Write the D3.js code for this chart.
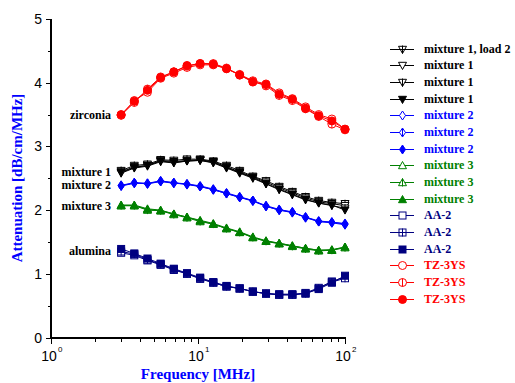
<!DOCTYPE html>
<html><head><meta charset="utf-8">
<script src="https://cdn.jsdelivr.net/npm/d3@7"></script>
<style>body{margin:0;background:#fff}svg{display:block}</style>
</head><body>
<script>
// ---- data ----
const freqs = [3, 3.687, 4.532, 5.571, 6.847, 8.416, 10.34, 12.71, 15.63, 19.21, 23.61, 29.02, 35.67, 43.84, 53.89, 66.23, 81.41, 100];
const yTicks = [0, 1, 2, 3, 4, 5];
const xTicks = [1, 10, 100];
const xTickExp = ["0", "1", "2"];

const m1Load2 = [2.62, 2.70, 2.72, 2.79, 2.78, 2.80, 2.80, 2.77, 2.70, 2.62, 2.53, 2.46, 2.37, 2.29, 2.21, 2.15, 2.12, 2.10];
const m1A = [2.60, 2.68, 2.70, 2.78, 2.76, 2.78, 2.79, 2.76, 2.68, 2.60, 2.52, 2.44, 2.35, 2.27, 2.19, 2.13, 2.10, 2.07];
const m1B = [2.58, 2.66, 2.69, 2.76, 2.74, 2.77, 2.78, 2.74, 2.66, 2.58, 2.50, 2.41, 2.32, 2.24, 2.16, 2.11, 2.07, 2.03];
const m1C = [2.59, 2.67, 2.70, 2.77, 2.75, 2.77, 2.78, 2.75, 2.67, 2.59, 2.51, 2.42, 2.33, 2.25, 2.17, 2.11, 2.08, 2.00];

const m2A = [2.39, 2.43, 2.42, 2.46, 2.43, 2.41, 2.38, 2.33, 2.27, 2.21, 2.15, 2.07, 2.01, 1.97, 1.89, 1.83, 1.81, 1.79];
const m2B = [2.38, 2.42, 2.42, 2.45, 2.42, 2.41, 2.37, 2.32, 2.26, 2.20, 2.14, 2.06, 2.00, 1.96, 1.89, 1.82, 1.80, 1.77];
const m2C = [2.38, 2.43, 2.41, 2.45, 2.43, 2.40, 2.37, 2.32, 2.26, 2.20, 2.15, 2.06, 2.00, 1.97, 1.88, 1.82, 1.81, 1.78];

const m3A = [2.08, 2.08, 2.02, 2.00, 1.94, 1.89, 1.84, 1.79, 1.72, 1.66, 1.58, 1.52, 1.48, 1.44, 1.40, 1.37, 1.38, 1.42];
const m3B = [2.07, 2.07, 2.00, 1.99, 1.93, 1.88, 1.82, 1.78, 1.71, 1.65, 1.57, 1.51, 1.47, 1.43, 1.39, 1.36, 1.37, 1.41];
const m3C = [2.07, 2.07, 2.01, 1.99, 1.94, 1.89, 1.83, 1.78, 1.71, 1.65, 1.57, 1.51, 1.48, 1.44, 1.40, 1.37, 1.37, 1.42];

const aaA = [1.33, 1.29, 1.21, 1.14, 1.06, 1.00, 0.92, 0.86, 0.80, 0.77, 0.72, 0.69, 0.67, 0.67, 0.70, 0.78, 0.88, 0.95];
const aaB = [1.35, 1.31, 1.22, 1.15, 1.07, 1.00, 0.93, 0.86, 0.80, 0.77, 0.72, 0.69, 0.67, 0.67, 0.69, 0.77, 0.87, 0.93];
const aaC = [1.39, 1.32, 1.24, 1.16, 1.08, 1.01, 0.94, 0.87, 0.81, 0.77, 0.72, 0.69, 0.68, 0.68, 0.69, 0.76, 0.86, 0.97];

const tzA = [3.49, 3.72, 3.85, 4.07, 4.15, 4.24, 4.28, 4.28, 4.22, 4.13, 4.03, 3.98, 3.84, 3.75, 3.62, 3.50, 3.43, 3.27];
const tzB = [3.49, 3.69, 3.90, 4.09, 4.17, 4.26, 4.30, 4.30, 4.23, 4.12, 4.02, 3.95, 3.80, 3.72, 3.59, 3.47, 3.35, 3.26];
const tzC = [3.50, 3.71, 3.88, 4.08, 4.17, 4.27, 4.30, 4.29, 4.22, 4.12, 4.01, 3.97, 3.82, 3.74, 3.60, 3.48, 3.40, 3.27];

const seriesNames = ["mixture 1, load 2", "mixture 1", "mixture 1", "mixture 1", "mixture 2", "mixture 2", "mixture 2",
  "mixture 3", "mixture 3", "mixture 3", "AA-2", "AA-2", "AA-2", "TZ-3YS", "TZ-3YS", "TZ-3YS"];
const seriesValues = [m1Load2, m1A, m1B, m1C, m2A, m2B, m2C, m3A, m3B, m3C, aaA, aaB, aaC, tzA, tzB, tzC];
const seriesColors = ["#000", "#000", "#000", "#000", "#0000ff", "#0000ff", "#0000ff", "#008000", "#008000", "#008000",
  "#000080", "#000080", "#000080", "#ff0000", "#ff0000", "#ff0000"];
const seriesShapes = ["dtriX", "dtri", "dtriV", "dtriF", "dia", "diaX", "diaF", "tri", "triX", "triF", "sq", "sqX", "sqF", "cir", "cirX", "cirF"];

const labels = ["zirconia", "mixture 1", "mixture 2", "mixture 3", "alumina"];
const labelValues = [3.49, 2.60, 2.39, 2.07, 1.36];

// ---- drawing ----
const W = 515, H = 383;
const svg = d3.select("body").append("svg").attr("width", W).attr("height", H);
const x = d3.scaleLog().domain([1, 100]).range([51, 345]);
const y = d3.scaleLinear().domain([0, 5]).range([337.5, 19]);

function drawMarker(g, shape, color, cx, cy) {
  const s = 4;
  const fill = shape.endsWith("F") ? color : "#fff";
  const base = shape.replace(/[FXV]$/, "");
  let el;
  if (base === "dtri") {
    el = g.append("path").attr("d", `M${cx - s},${cy - s * 0.8}L${cx + s},${cy - s * 0.8}L${cx},${cy + s}Z`);
  } else if (base === "tri") {
    el = g.append("path").attr("d", `M${cx - s},${cy + s * 0.8}L${cx + s},${cy + s * 0.8}L${cx},${cy - s}Z`);
  } else if (base === "dia") {
    el = g.append("path").attr("d", `M${cx},${cy - s - 0.5}L${cx + s * 0.75},${cy}L${cx},${cy + s + 0.5}L${cx - s * 0.75},${cy}Z`);
  } else if (base === "sq") {
    el = g.append("rect").attr("x", cx - s + 0.5).attr("y", cy - s + 0.5).attr("width", 2 * s - 1).attr("height", 2 * s - 1);
  } else {
    el = g.append("circle").attr("cx", cx).attr("cy", cy).attr("r", s);
  }
  el.attr("fill", fill).attr("stroke", color).attr("stroke-width", 1);
  if (shape.endsWith("X") || shape.endsWith("V")) {
    g.append("line").attr("x1", cx).attr("x2", cx).attr("y1", cy - s).attr("y2", cy + s).attr("stroke", color);
    if (base === "sq" || base === "dtri") {
      if (shape.endsWith("X"))
        g.append("line").attr("x1", cx - s).attr("x2", cx + s).attr("y1", cy).attr("y2", cy).attr("stroke", color);
    }
  }
}

// axes
const axG = svg.append("g");
axG.append("line").attr("x1", 51).attr("x2", 51).attr("y1", 19).attr("y2", 338.5).attr("stroke", "#000").attr("stroke-width", 2);
axG.append("line").attr("x1", 50).attr("x2", 346).attr("y1", 338).attr("y2", 338).attr("stroke", "#000").attr("stroke-width", 2);

// y ticks
d3.range(0, 5.01, 0.5).forEach(v => {
  const major = Math.abs(v - Math.round(v)) < 1e-6;
  axG.append("line").attr("x1", major ? 46 : 48).attr("x2", 51).attr("y1", Math.round(y(v)) + 0.5).attr("y2", Math.round(y(v)) + 0.5)
    .attr("stroke", "#000").attr("stroke-width", 1);
});
yTicks.forEach(v => {
  axG.append("text").attr("x", 42).attr("y", y(v) + 5).attr("text-anchor", "end")
    .attr("font-family", "Liberation Sans, Arial, sans-serif").attr("font-size", 14).text(v);
});
// x ticks
const minor = [];
[1, 10].forEach(dec => { for (let k = 2; k <= 9; k++) minor.push(dec * k); });
minor.forEach(v => {
  axG.append("line").attr("x1", Math.round(x(v)) + 0.5).attr("x2", Math.round(x(v)) + 0.5).attr("y1", 338).attr("y2", 342).attr("stroke", "#000");
});
xTicks.forEach((v, i) => {
  axG.append("line").attr("x1", Math.round(x(v)) + 0.5).attr("x2", Math.round(x(v)) + 0.5).attr("y1", 338).attr("y2", 344).attr("stroke", "#000");
  const t = axG.append("text").attr("x", x(v) - 2).attr("y", 361).attr("text-anchor", "middle")
    .attr("font-family", "Liberation Sans, Arial, sans-serif").attr("font-size", 14).text("10");
  axG.append("text").attr("x", x(v) + 7).attr("y", 352).attr("text-anchor", "start")
    .attr("font-family", "Liberation Sans, Arial, sans-serif").attr("font-size", 8).text(xTickExp[i]);
});

// axis titles
svg.append("text").attr("x", 198).attr("y", 379).attr("text-anchor", "middle")
  .attr("font-family", "Liberation Serif, Times New Roman, serif").attr("font-weight", "bold").attr("font-size", 15)
  .attr("fill", "#0000ff").text("Frequency [MHz]");
svg.append("text").attr("transform", "translate(22,178) rotate(-90)").attr("text-anchor", "middle")
  .attr("font-family", "Liberation Serif, Times New Roman, serif").attr("font-weight", "bold").attr("font-size", 15)
  .attr("fill", "#0000ff").text("Attenuation [dB/cm/MHz]");

// series
const line = d3.line().x((d, i) => x(freqs[i])).y(d => y(d));
const plotG = svg.append("g");
seriesValues.forEach((vals, si) => {
  plotG.append("path").attr("d", line(vals)).attr("fill", "none").attr("stroke", seriesColors[si]).attr("stroke-width", 1);
});
seriesValues.forEach((vals, si) => {
  const g = plotG.append("g");
  vals.forEach((v, i) => drawMarker(g, seriesShapes[si], seriesColors[si], x(freqs[i]), y(v)));
});

// curve labels
labels.forEach((t, i) => {
  svg.append("text").attr("x", 111).attr("y", y(labelValues[i]) + 4).attr("text-anchor", "end")
    .attr("font-family", "Liberation Serif, Times New Roman, serif").attr("font-weight", "bold").attr("font-size", 12)
    .text(t);
});

// legend
const legG = svg.append("g");
seriesNames.forEach((n, i) => {
  const ly = 48.5 + i * 16.67;
  const ry = Math.round(ly) + 0.5;
  legG.append("line").attr("x1", 390).attr("x2", 414).attr("y1", ry).attr("y2", ry).attr("stroke", seriesColors[i]);
  drawMarker(legG.append("g"), seriesShapes[i], seriesColors[i], 402.5, ry);
  legG.append("text").attr("x", 424).attr("y", ly + 4).attr("font-family", "Liberation Serif, Times New Roman, serif")
    .attr("font-weight", "bold").attr("font-size", 12).attr("fill", seriesColors[i]).text(n);
});
</script>
</body></html>
